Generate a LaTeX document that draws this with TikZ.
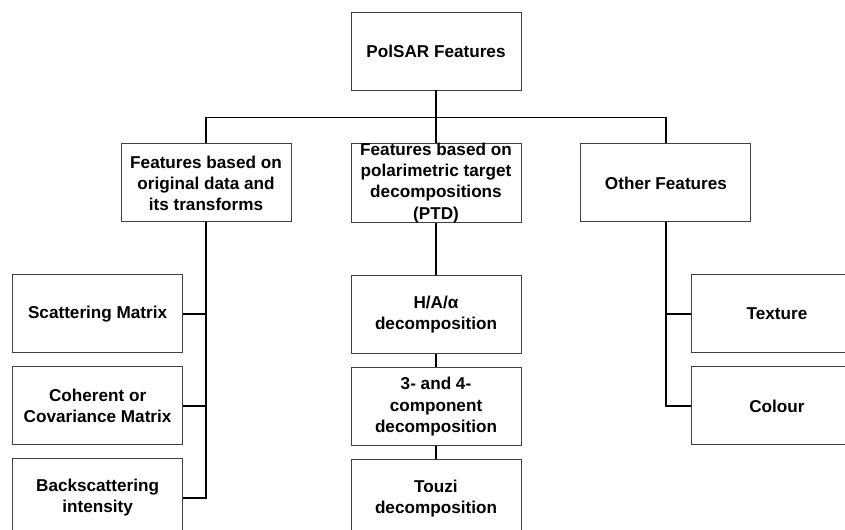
\documentclass[tikz,border=0pt]{standalone}
\usepackage{fontspec}
\setmainfont{Liberation Sans}
\usepackage{tikz}
\usetikzlibrary{positioning}
\tikzset{%
	block/.style    = {draw=black!75, line width=0.7pt, rectangle, minimum height = 1.95cm,
		minimum width = 4.25cm, inner ysep=0pt, align=center,
		font=\fontsize{12.2}{15}\selectfont\bfseries}
}

\begin{document}
\begin{tikzpicture}[line width=1.4pt, node distance=1.3cm]
          \def\colgap{0.325cm};
          \def\sidegap{1.475cm};
        \useasboundingbox (-10.9,1.275) rectangle (10.225,-11.975);
        \draw
            node at (0,0)[block, name=polsar]{PolSAR Features}
            node [block, below left=1.325cm and \sidegap of polsar] (orig) {Features based on\\ original data and\\ its transforms}
            node [block, right=\sidegap of orig] (ptd) {Features based on\\ polarimetric target\\ decompositions\\ (PTD)}
            node [block, right=\sidegap of ptd] (other) {Other Features}

            node [block, below=of orig, xshift=-2.71cm] (scat) {Scattering Matrix}
            node [block, below=\colgap of scat] (coh) {Coherent or\\ Covariance Matrix}
            node [block, below=\colgap of coh] (back) {Backscattering\\ intensity}

            node [block, below=of ptd] (ha) {H/A/α\\ decomposition}
            node [block, below=\colgap of ha] (comp) {3- and 4-\\ component\\ decomposition}
            node [block, below=\colgap of comp] (touzi) {Touzi\\ decomposition}

            node [block, below=of other, xshift=2.775cm] (tex) {Texture}
            node [block, below=\colgap of tex] (col) {Colour};

            \coordinate [below=0.675cm of polsar] (bus);
            \draw (polsar) -- (ptd);
            \draw (orig.north) |- (bus) -| (other.north);

            \foreach \n in {scat,coh,back} \draw (\n.east) -| (orig.south);
            \foreach \n in {tex,col} \draw (\n.west) -| (other.south);
            \draw (ptd) -- (ha) (ha) -- (comp) (comp) -- (touzi);
    \end{tikzpicture}
\end{document}
